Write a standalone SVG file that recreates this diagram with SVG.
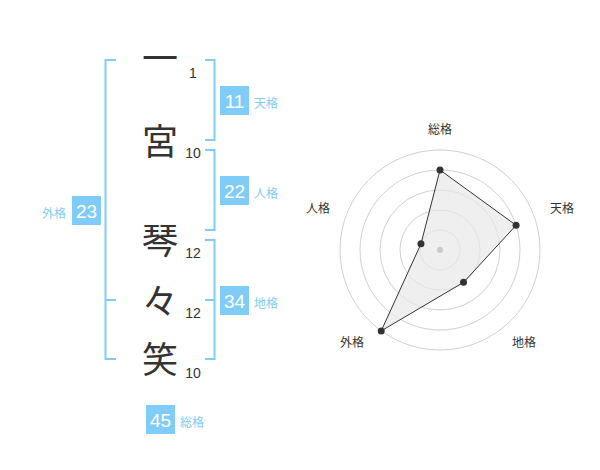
<svg xmlns="http://www.w3.org/2000/svg" width="600" height="470" viewBox="0 0 600 470">
<style>
.ch{font-family:"Noto Sans CJK JP","Noto Sans CJK SC",sans-serif;font-size:36px;fill:#333;text-anchor:middle}
.num{font-family:"Liberation Sans",Arial,sans-serif;font-size:14px;fill:#333;text-anchor:middle}
.br{fill:none;stroke:#80ccf8;stroke-width:2}
.box{fill:#80ccf8}
.bn{font-family:"Liberation Sans",Arial,sans-serif;font-size:19px;fill:#fff;text-anchor:middle}
.lb{font-family:"Noto Sans CJK JP","Noto Sans CJK SC",sans-serif;font-size:12px;fill:#80ccf8}
.ring{fill:none;stroke:#d0d0d0;stroke-width:1}
.ax{font-family:"Noto Sans CJK JP","Noto Sans CJK SC",sans-serif;font-size:12px;fill:#333;text-anchor:middle}
.pt{fill:#333}
</style>
<rect width="600" height="470" fill="#fff"/>
<g id="chars">
<text class="ch" x="160" y="72">一</text>
<text class="ch" x="160" y="155">宮</text>
<text class="ch" x="160" y="254">琴</text>
<text class="ch" x="160" y="315">々</text>
<text class="ch" x="160" y="373">笑</text>
</g>
<g id="strokes">
<text class="num" x="193" y="78">1</text>
<text class="num" x="193" y="158">10</text>
<text class="num" x="193" y="258">12</text>
<text class="num" x="193" y="318">12</text>
<text class="num" x="193" y="378">10</text>
</g>
<g id="connectors">
<path class="br" d="M205,60 H214.5 V140 H205"/>
<path class="br" d="M205,150 H214.5 V230 H205"/>
<path class="br" d="M205,240 H214.5 V359 H205 M205,300 H214.5"/>
<path class="br" d="M116,60 H105.5 V359 H116 M105.5,300 H116"/>
</g>
<g id="tenkaku">
<rect class="box" x="220" y="86" width="29" height="29"/>
<text class="bn" x="234.5" y="107.5">11</text>
<text class="lb" x="254" y="108">天格</text>
</g>
<g id="jinkaku">
<rect class="box" x="220" y="176" width="29" height="29"/>
<text class="bn" x="234.5" y="197.5">22</text>
<text class="lb" x="254" y="198">人格</text>
</g>
<g id="chikaku">
<rect class="box" x="220" y="286" width="29" height="29"/>
<text class="bn" x="234.5" y="307.5">34</text>
<text class="lb" x="254" y="308">地格</text>
</g>
<g id="gaikaku">
<rect class="box" x="72" y="196" width="29" height="29"/>
<text class="bn" x="86.5" y="217.5">23</text>
<text class="lb" x="66" y="218" text-anchor="end">外格</text>
</g>
<g id="soukaku">
<rect class="box" x="146" y="405" width="29" height="29"/>
<text class="bn" x="160.5" y="426.5">45</text>
<text class="lb" x="180" y="427">総格</text>
</g>
<g id="radar">
<circle class="ring" cx="440" cy="250" r="20"/>
<circle class="ring" cx="440" cy="250" r="40"/>
<circle class="ring" cx="440" cy="250" r="60"/>
<circle class="ring" cx="440" cy="250" r="80"/>
<circle class="ring" cx="440" cy="250" r="100"/>
<polygon points="440,170 516.08,225.28 463.51,282.36 381.22,330.9 420.98,243.82" fill="#e8e8e8" fill-opacity="0.7" stroke="#333" stroke-width="1"/>
<circle cx="440" cy="250" r="3" fill="#c8c8c8"/>
<circle class="pt" cx="440" cy="170" r="3.5"/>
<circle class="pt" cx="516.08" cy="225.28" r="3.5"/>
<circle class="pt" cx="463.51" cy="282.36" r="3.5"/>
<circle class="pt" cx="381.22" cy="330.9" r="3.5"/>
<circle class="pt" cx="420.98" cy="243.82" r="3.5"/>
<text class="ax" x="440" y="134">総格</text>
<text class="ax" x="562" y="213">天格</text>
<text class="ax" x="318" y="213">人格</text>
<text class="ax" x="352" y="347">外格</text>
<text class="ax" x="524" y="347">地格</text>
</g>
</svg>
